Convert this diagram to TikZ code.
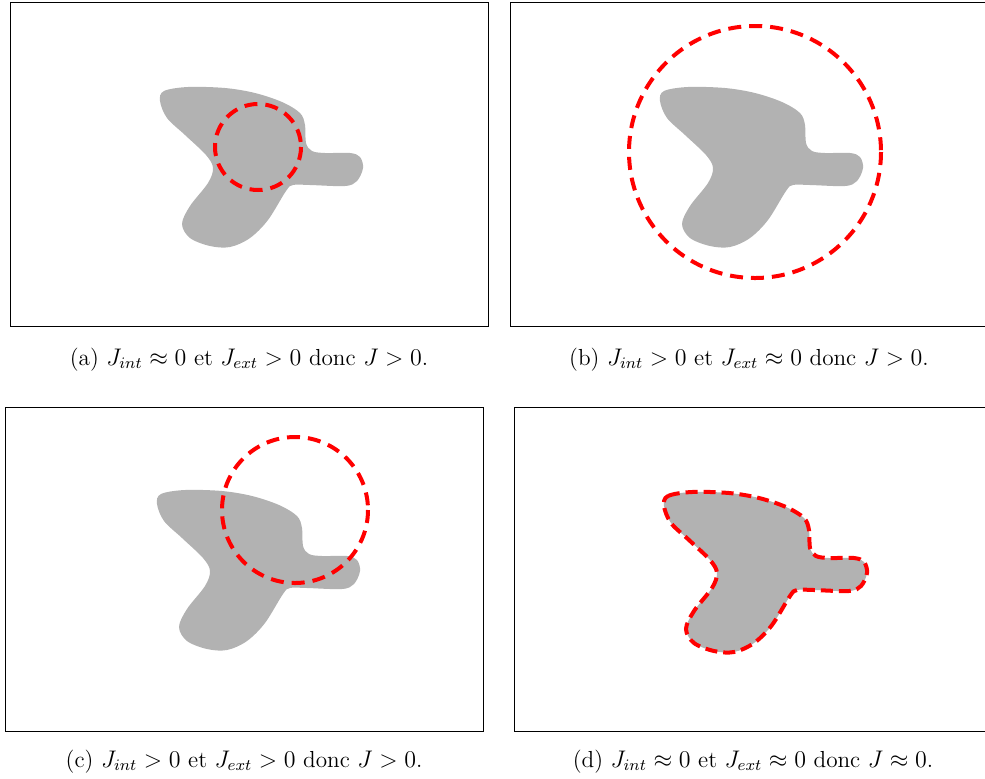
\documentclass[tikz,border=0pt]{standalone}
\usepackage{amsmath}
\usetikzlibrary{positioning}

\definecolor{blobgray}{gray}{0.7}

\tikzset{
	panel/.style={draw, black, line width=0.6pt, anchor=north west, inner sep=0pt,
		minimum width=239pt, minimum height=162pt},
	contour/.style={red, line width=2pt, dash pattern=on 6.5pt off 4pt},
	contourfin/.style={red, line width=2pt, dash pattern=on 6pt off 3pt},
	legende/.style={anchor=base, inner sep=0pt, font=\fontsize{11.6pt}{14pt}\selectfont},
	blob/.pic={
		\path[fill=blobgray, pic actions] plot[smooth cycle, tension=0.55] coordinates {
			(150,99) (154,89) (178,85) (215,86) (245,91) (272,100) (290,111)
			(295,123) (296,141) (302,149) (315,151) (340,151) (350,155)
			(353,166) (347,179) (335,184) (300,183) (283,183) (276,189)
			(258,218) (240,236) (220,245) (200,244) (180,236) (172,222)
			(180,204) (198,181) (203,166) (196,153) (175,133) (157,116)};
	},
}

\begin{document}
\begin{tikzpicture}[x=0.5pt, y=-0.5pt]
	\useasboundingbox (0,0) rectangle (985,778);
	% (a) small circle inside the shape
	\begin{scope}[shift={(10,2)}]
		\node[panel] (fa) at (0,0) {};
		\pic {blob};
		\draw[contour] (248,145) circle[radius=43];
		\node[legende] (la) at (239,363) {(a)\ $J_{int} \approx 0$ et $J_{ext} > 0$ donc $J > 0$.};
	\end{scope}
	% (b) large circle around the shape
	\begin{scope}[shift={(510,2)}]
		\node[panel] (fb) at (0,0) {};
		\pic {blob};
		\draw[contour] (245,150) circle[radius=126];
		\node[legende] (lb) at (239,363) {(b)\ $J_{int} > 0$ et $J_{ext} \approx 0$ donc $J > 0$.};
	\end{scope}
	% (c) circle across the border
	\begin{scope}[shift={(5,407)}]
		\node[panel] (fc) at (0,0) {};
		\pic at (2,-2) {blob};
		\draw[contour] (290,103) circle[radius=73];
		\node[legende] (lc) at (239,360) {(c)\ $J_{int} > 0$ et $J_{ext} > 0$ donc $J > 0$.};
	\end{scope}
	% (d) contour on the border
	\begin{scope}[shift={(514,407)}]
		\node[panel] (fd) at (0,0) {};
		\pic[contourfin, draw] {blob};
		\node[legende] (ld) at (239,360) {(d)\ $J_{int} \approx 0$ et $J_{ext} \approx 0$ donc $J \approx 0$.};
	\end{scope}
\end{tikzpicture}
\end{document}
